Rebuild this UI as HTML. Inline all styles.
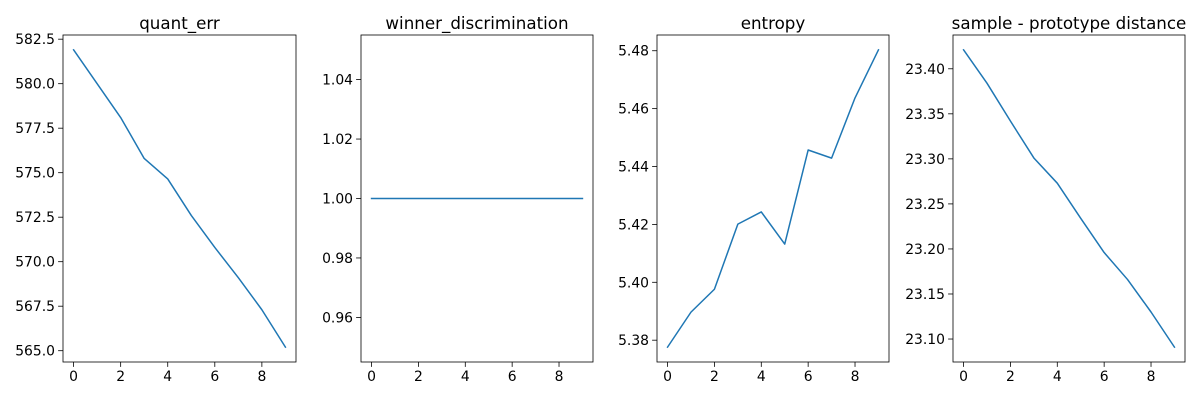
<!DOCTYPE html>
<html><head><meta charset="utf-8"><style>
html,body{margin:0;padding:0;background:#fff;width:1200px;height:400px;overflow:hidden}
svg{font-family:"DejaVu Sans","Liberation Sans",sans-serif}
</style></head><body>
<svg id="fig" width="1200" height="400" xmlns="http://www.w3.org/2000/svg"></svg>
<script>
const xCategories = [0,1,2,3,4,5,6,7,8,9];
const xTicks = [0,2,4,6,8];
const quantErr = [581.9,580.0,578.1,575.8,574.65,572.6,570.8,569.1,567.3,565.2];
const quantErrTicks = [565.0,567.5,570.0,572.5,575.0,577.5,580.0,582.5];
const winnerDisc = [1,1,1,1,1,1,1,1,1,1];
const winnerDiscTicks = [0.96,0.98,1.00,1.02,1.04];
const entropy = [5.3776,5.3897,5.3976,5.4201,5.4243,5.4132,5.4457,5.4429,5.4637,5.4803];
const entropyTicks = [5.38,5.40,5.42,5.44,5.46,5.48];
const protoDist = [23.421,23.384,23.342,23.301,23.273,23.234,23.196,23.166,23.130,23.091];
const protoDistTicks = [23.10,23.15,23.20,23.25,23.30,23.35,23.40];

const NS="http://www.w3.org/2000/svg";
const fig=document.getElementById('fig');
function mk(tag,attrs,parent){const e=document.createElementNS(NS,tag);for(const k in attrs)e.setAttribute(k,attrs[k]);(parent||fig).appendChild(e);return e;}

function panel(name,title,left,right,vals,ticks,dec,fixedLim){
  const top=35,bottom=362;
  const g=mk('g',{});
  
  
  const xmin=Math.min(...xCategories),xmax=Math.max(...xCategories);
  const xm=(xmax-xmin)*0.05;
  const x0=xmin-xm,x1=xmax+xm;
  let y0,y1;
  if(fixedLim){y0=fixedLim[0];y1=fixedLim[1];}
  else{const mn=Math.min(...vals),mx=Math.max(...vals),m=(mx-mn)*0.05;y0=mn-m;y1=mx+m;}
  const X=v=>left+(v-x0)/(x1-x0)*(right-left);
  const Y=v=>bottom-(v-y0)/(y1-y0)*(bottom-top);
  // line
  const pts=xCategories.map((c,i)=>X(c).toFixed(2)+','+Y(vals[i]).toFixed(2)).join(' ');
  const pl=mk('polyline',{points:pts,fill:'none',stroke:'#1f77b4','stroke-width':1.5,'stroke-linejoin':'round','stroke-linecap':'square'},g);
  
  
  // frame
  const fr=mk('rect',{x:left,y:top,width:right-left,height:bottom-top,fill:'none',stroke:'#000','stroke-width':0.8},g);
  
  
  // x ticks
  xTicks.forEach(t=>{
    const x=X(t);
    mk('line',{x1:x,x2:x,y1:bottom,y2:bottom+4.9,stroke:'#000','stroke-width':0.8},g);
    const tx=mk('text',{x:x,y:bottom+19,'font-size':13.9,'text-anchor':'middle',fill:'#000'},g);
    tx.textContent=String(t);
    
    
  });
  ticks.forEach(t=>{
    const y=Y(t);
    mk('line',{x1:left-4.9,x2:left,y1:y,y2:y,stroke:'#000','stroke-width':0.8},g);
    const ty=mk('text',{x:left-8,y:y+5,'font-size':13.9,'text-anchor':'end',fill:'#000'},g);
    ty.textContent=t.toFixed(dec);
    
    
  });
  const tt=mk('text',{x:(left+right)/2,y:top-6,'font-size':16.7,'text-anchor':'middle',fill:'#000'},g);
  tt.textContent=title;
  
  
}
panel('quant-err','quant_err',63,296,quantErr,quantErrTicks,1);
panel('winner-discrimination','winner_discrimination',361,593,winnerDisc,winnerDiscTicks,2,[0.945,1.055]);
panel('entropy','entropy',657,889,entropy,entropyTicks,2);
panel('sample-prototype-distance','sample - prototype distance',953,1185,protoDist,protoDistTicks,2);
</script>
</body></html>
